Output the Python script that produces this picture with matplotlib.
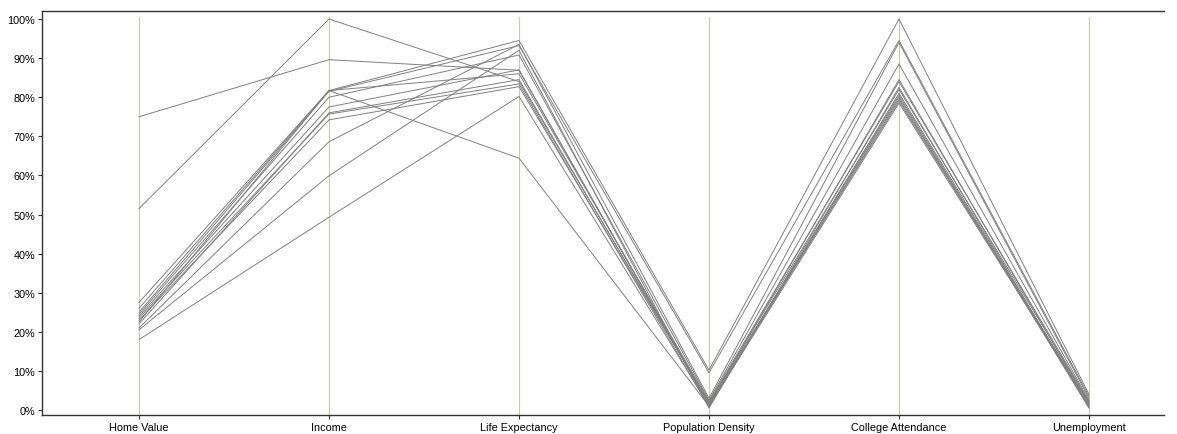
import matplotlib
matplotlib.use("Agg")
import matplotlib.pyplot as plt

axes_names = ["Home Value", "Income", "Life Expectancy", "Population Density",
              "College Attendance", "Unemployment"]

# one entry per record (percent of max)
home_value = [75, 51.5, 27.5, 26, 25, 24.5, 24, 23.5, 23, 22.5, 22, 21, 20.5, 18]
income = [89.6, 100, 81.7, 81.7, 81.5, 80, 77.5, 75.7, 74.2, 81.7, 76, 68.6, 59.9, 49.3]
life_exp = [86.9, 84, 94.5, 64.4, 93.2, 90.8, 87, 83.4, 82.7, 86, 84.5, 93.5, 92, 80.2]
pop_density = [1.5, 2, 10.2, 1, 9.5, 2.5, 1.2, 0.8, 1.8, 2.2, 1.5, 3, 0.5, 1]
college = [84.5, 82, 100, 80.5, 94.5, 88.5, 79.5, 81, 80, 84, 79, 94, 82.5, 78.5]
unemployment = [1.5, 2, 4, 0.8, 3.5, 2.5, 1, 1.2, 0.5, 2.2, 1.8, 3, 0.6, 1.3]

yticks = list(range(0, 101, 10))

plt.rcParams['font.family'] = ['Liberation Sans', 'DejaVu Sans']

W, H = 1177, 435
fig = plt.figure(figsize=(W / 100, H / 100), dpi=100)
ax = fig.add_axes([42 / W, (H - 416) / H, (1164 - 42) / W, (416 - 12) / H])

xs = list(range(len(axes_names)))
for x in xs:
    ax.axvline(x, ymax=0.985, color='#c8c8bc', linewidth=0.8, zorder=1)

columns = [home_value, income, life_exp, pop_density, college, unemployment]
for rec in zip(*columns):
    ax.plot(xs, rec, color='#808080', linewidth=0.7, zorder=2)

ax.set_xlim((42 - 139) / 190, (1164 - 139) / 190)
ax.set_ylim(-1.28, 102.05)
ax.set_xticks(xs)
ax.set_xticklabels(axes_names, fontsize=7.8)
ax.set_yticks(yticks)
ax.set_yticklabels([f"{t}%" for t in yticks], fontsize=7.8)
ax.tick_params(axis='both', length=3, width=0.8, color='#333333', pad=2)

for side in ['left', 'bottom', 'top']:
    ax.spines[side].set_color('#333333')
    ax.spines[side].set_linewidth(1)
ax.spines['right'].set_visible(False)

fig.savefig('out.png', dpi=100)
